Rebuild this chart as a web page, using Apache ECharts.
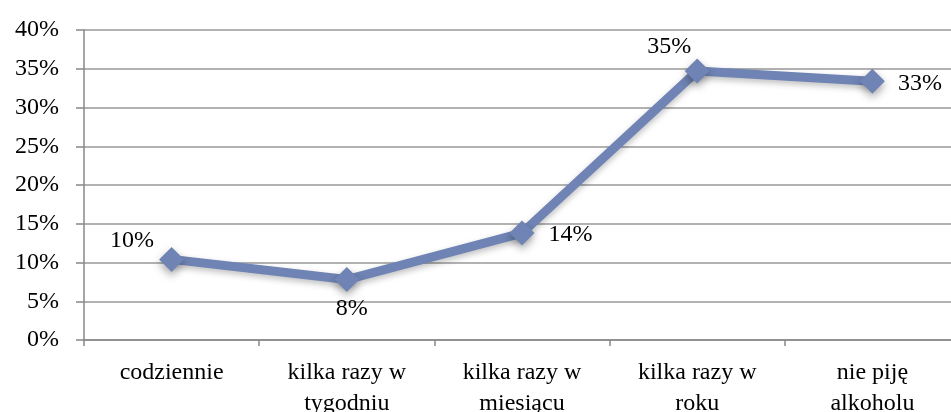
<!DOCTYPE html>
<html><head><meta charset="utf-8">
<script src="https://cdn.jsdelivr.net/npm/echarts@6/dist/echarts.min.js"></script>
<style>html,body{margin:0;padding:0;background:#fff}#c{width:951px;height:412px}</style>
</head><body><div id="c"></div>
<script>
const categories = ['codziennie', 'kilka razy w\ntygodniu', 'kilka razy w\nmiesiącu', 'kilka razy w\nroku', 'nie piję\nalkoholu'];
const values = [10.4, 7.8, 13.8, 34.7, 33.4];
const labelTexts = ['10%', '8%', '14%', '35%', '33%'];
const yTicks = [0, 5, 10, 15, 20, 25, 30, 35, 40];

const labelLayout = [
  { position: 'left', distance: 5, offset: [0, -19] },
  { position: 'bottom', distance: 5, offset: [5, 0] },
  { position: 'right', distance: 14, offset: [0, 2] },
  { position: 'top', distance: 1, offset: [-28, 1] },
  { position: 'right', distance: 13, offset: [0, 3] }
];

const font = '"Liberation Serif", "Times New Roman", serif';
const chart = echarts.init(document.getElementById('c'));
chart.setOption({
  animation: false,
  grid: { left: 84, top: 30, width: 876, height: 310, outerBoundsMode: 'none', containLabel: false },
  xAxis: {
    type: 'category', data: categories, boundaryGap: true,
    axisLine: { lineStyle: { color: '#888', width: 1.5 } },
    axisTick: { show: true, length: 6, lineStyle: { color: '#888', width: 1.5 } },
    axisLabel: { color: '#000', fontFamily: font, fontSize: 24, lineHeight: 31, margin: 17, interval: 0 }
  },
  yAxis: {
    type: 'value', min: yTicks[0], max: yTicks[yTicks.length - 1], interval: 5,
    axisLine: { show: true, lineStyle: { color: '#888', width: 1.5 } },
    axisTick: { show: true, length: 8, lineStyle: { color: '#888', width: 1.5 } },
    splitLine: { lineStyle: { color: '#999', width: 1.5 } },
    axisLabel: { color: '#000', fontFamily: font, fontSize: 24, margin: 25, formatter: v => v + '%' }
  },
  series: [{
    type: 'line',
    data: values.map((v, i) => ({
      value: v,
      label: Object.assign({ show: true, formatter: labelTexts[i] }, labelLayout[i])
    })),
    symbol: 'diamond', symbolSize: 25,
    lineStyle: { color: '#6F84B4', width: 9, shadowColor: 'rgba(0,0,0,0.25)', shadowBlur: 6, shadowOffsetY: 3 },
    itemStyle: { color: '#6F84B4', shadowColor: 'rgba(0,0,0,0.35)', shadowBlur: 8, shadowOffsetY: 4 },
    label: { color: '#000', fontFamily: font, fontSize: 24 }
  }]
});
</script></body></html>
